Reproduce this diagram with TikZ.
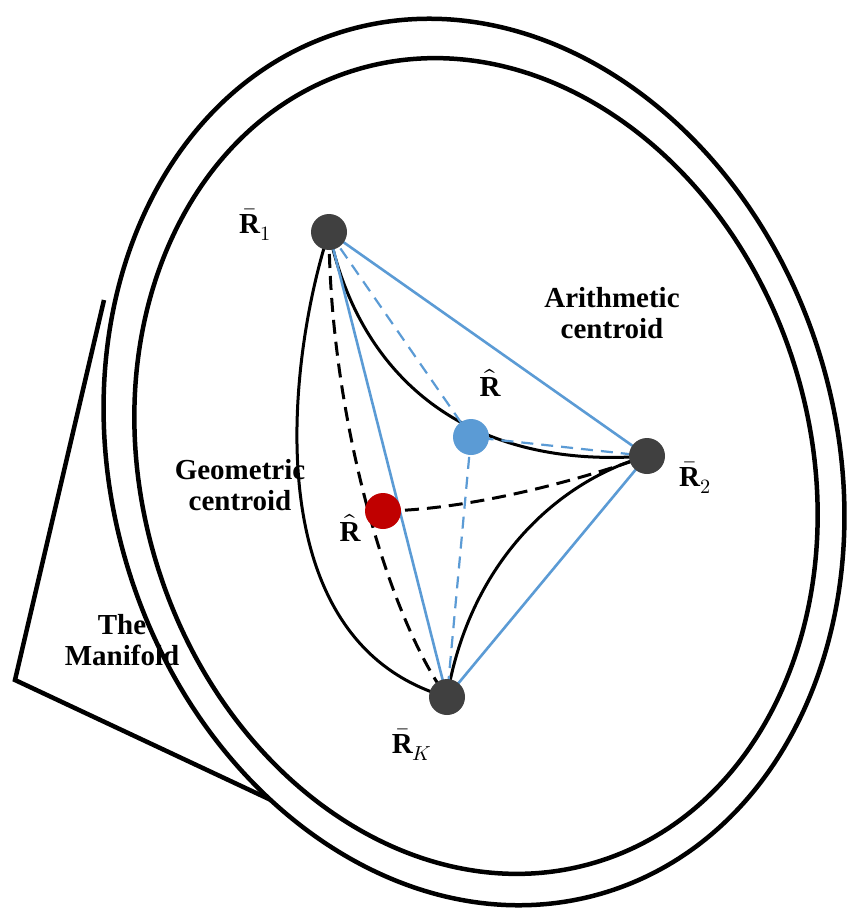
\documentclass[tikz,border=0pt]{standalone}
\usepackage{fontspec}
\setmainfont{Liberation Serif}
\usepackage{unicode-math}
\setmathfont{Latin Modern Math}
\begin{document}
\begin{tikzpicture}[x=1pt,y=-1pt,
  pt/.style={circle,inner sep=0pt,minimum size=36pt},
  lbl/.style={font=\bfseries\fontsize{29}{31}\selectfont,align=center},
  blk/.style={draw=black,line width=3pt},
  ring/.style={draw=black,line width=4.5pt}]
\definecolor{bluec}{HTML}{5B9BD5}
\definecolor{darkg}{HTML}{404040}
\definecolor{redc}{HTML}{C00000}
\useasboundingbox (0,0) rectangle (853,909);
\fill[white] (0,0) rectangle (853,909);
% cone
\coordinate (apex) at (15,680);
\coordinate (t1) at (104,300);
\coordinate (t2) at (335,830);
\draw[ring,line join=miter] (t1) -- (apex) -- (t2);
\fill[white] (474,462) ellipse[x radius=362,y radius=450,rotate=17];
\draw[ring] (474,462) ellipse[x radius=362,y radius=450,rotate=17];
\draw[ring] (476,466) ellipse[x radius=334,y radius=414,rotate=17];
% points
\coordinate (r1) at (329,232);
\coordinate (r2) at (647,456);
\coordinate (rk) at (447,697);
\coordinate (ab) at (471,437);
\coordinate (gr) at (383,511);
% black curves
\draw[blk] (r1) .. controls (290,350) and (250,640) .. (rk);
\draw[blk] (r1) .. controls (360,380) and (470,470) .. (r2);
\draw[blk] (rk) .. controls (470,560) and (560,480) .. (r2);
\draw[blk,dash pattern=on 14pt off 8pt] (r1) .. controls (330,420) and (390,620) .. (rk);
\draw[blk,dash pattern=on 14pt off 8pt] (gr) .. controls (470,510) and (580,480) .. (r2);
% blue lines
\draw[draw=bluec,line width=2.6pt] (r1) -- (r2) -- (rk) -- cycle;
\draw[draw=bluec,line width=2.2pt,dash pattern=on 12pt off 8pt] (r1) -- (ab) -- (r2) (ab) -- (rk);
% nodes
\node[pt,fill=darkg] (R1) at (r1) {};
\node[pt,fill=darkg] (R2) at (r2) {};
\node[pt,fill=darkg] (RK) at (rk) {};
\node[pt,fill=bluec] (A) at (ab) {};
\node[pt,fill=redc] (G) at (gr) {};
% labels
\node[lbl] (l1) at (255,225) {$\bar{\textbf{R}}_1$};
\node[lbl] (l2) at (695,478) {$\bar{\textbf{R}}_2$};
\node[lbl] (lk) at (412,745) {$\bar{\textbf{R}}_K$};
\node[lbl] (la) at (490,383) {$\hat{\textbf{R}}$};
\node[lbl] (lg) at (350,528) {$\hat{\textbf{R}}$};
\node[lbl] (t1l) at (612,313) {Arithmetic\\centroid};
\node[lbl] (t2l) at (240,485) {Geometric\\centroid};
\node[lbl] (t3l) at (122,640) {The\\Manifold};
\end{tikzpicture}
\end{document}
